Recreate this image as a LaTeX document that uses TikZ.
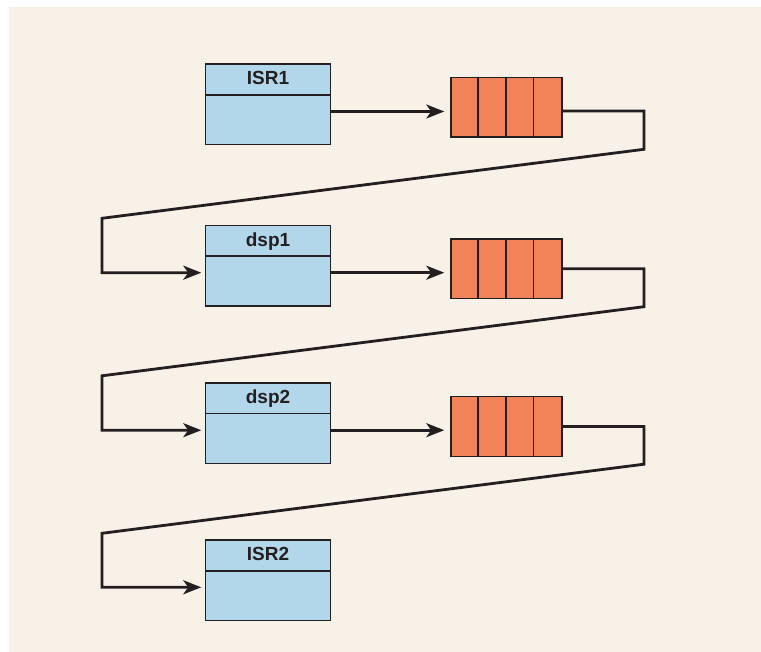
\documentclass[tikz,border=0pt]{standalone}
\usepackage{fontspec}
\setmainfont{Liberation Sans}
\usetikzlibrary{arrows.meta}
\definecolor{panel}{HTML}{F7F1E8}
\definecolor{boxblue}{HTML}{B3D7EA}
\definecolor{qorange}{HTML}{F28359}
\definecolor{ink}{HTML}{231F20}
\tikzset{
  taskbox/.style={draw=ink, line width=1.5pt, fill=boxblue,
    minimum width=125pt, minimum height=80.5pt, inner sep=0pt},
  tasktitle/.style={font=\fontsize{19}{19}\selectfont\bfseries, text=ink,
    inner sep=0pt, anchor=base},
  queuebox/.style={draw=ink, line width=1.5pt, fill=qorange,
    minimum width=111pt, minimum height=59.5pt, inner sep=0pt},
  thinrule/.style={draw=ink, line width=1.5pt},
  conn/.style={draw=ink, line width=2.8pt},
  flow/.style={conn, -{Stealth[length=18pt,width=14pt,inset=5pt]}}
}
\begin{document}
\begin{tikzpicture}[x=1pt, y=-1pt]
  \useasboundingbox (0,0) rectangle (761,652);
  \fill[white] (0,0) rectangle (761,652);
  \fill[panel] (9,7) rectangle (761,652);

  % task boxes: title band on top, empty body below
  \foreach \name/\label/\yc in {isr1/ISR1/104.5, dsp1/dsp1/265.7, dsp2/dsp2/423.2, isr2/ISR2/580.3} {
    \node[taskbox] (\name) at (268,\yc) {};
    \draw[thinrule] ([yshift=-31.5pt]\name.north west) -- ([yshift=-31.5pt]\name.north east);
    \node[tasktitle] (\name-title) at ([yshift=-21.5pt]\name.north) {\label};
    \coordinate (\name-in) at ([yshift=-7pt]\name.west);
    \coordinate (\name-out) at ([yshift=-7pt]\name.east);
  }

  % message queues with four slots
  \foreach \name/\yc in {q1/107.5, q2/268.8, q3/426.5} {
    \node[queuebox] (\name) at (506.5,\yc) {};
    \foreach \i in {1,2,3}
      \draw[thinrule] ([xshift=\i*27.75pt]\name.north west) -- ([xshift=\i*27.75pt]\name.south west);
  }

  % turning points of the return paths
  \coordinate (t1) at (644,149.3);
  \coordinate (u1) at (102,218.3);
  \coordinate (t2) at (644,306.7);
  \coordinate (u2) at (102,375.8);
  \coordinate (t3) at (644,464.2);
  \coordinate (u3) at (102,533.3);

  % task -> queue
  \draw[flow, shorten >=6pt] (isr1-out) -- (isr1-out -| q1.west);
  \draw[flow, shorten >=6pt] (dsp1-out) -- (dsp1-out -| q2.west);
  \draw[flow, shorten >=6pt] (dsp2-out) -- (dsp2-out -| q3.west);

  % queue -> next task
  \draw[flow, shorten >=3.5pt] ([yshift=-3.5pt]q1.east) -| (t1) -- (u1) |- (dsp1-in);
  \draw[flow, shorten >=3.5pt] (q2.east) -| (t2) -- (u2) |- (dsp2-in);
  \draw[flow, shorten >=3.5pt] (q3.east) -| (t3) -- (u3) |- (isr2-in);
\end{tikzpicture}
\end{document}
